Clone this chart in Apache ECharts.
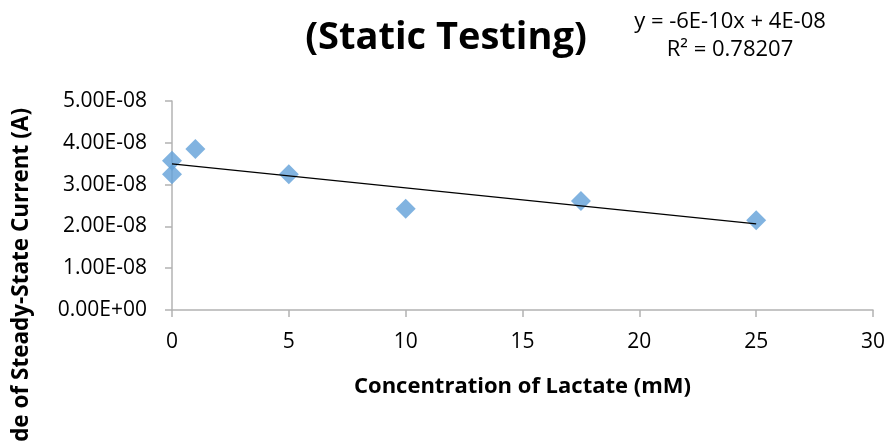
<!DOCTYPE html>
<html>
<head>
<meta charset="utf-8">
<script src="https://cdn.jsdelivr.net/npm/echarts@6/dist/echarts.min.js"></script>
<style>
  html, body { margin: 0; padding: 0; background: #fff; }
  #chart { width: 891px; height: 442px; }
</style>
</head>
<body>
<div id="chart"></div>
<script>
var lactate = [0, 0, 1, 5, 10, 17.5, 25];
var current = [3.57e-8, 3.25e-8, 3.85e-8, 3.25e-8, 2.42e-8, 2.61e-8, 2.15e-8];
var yTicks = [0, 1e-8, 2e-8, 3e-8, 4e-8, 5e-8];
var equationText = 'y = -6E-10x + 4E-08';
var r2Text = 'R² = 0.78207';

// least squares trendline, drawn over the data range
function fitLine(xs, ys) {
    var n = xs.length, mx = 0, my = 0;
    for (var i = 0; i < n; i++) { mx += xs[i]; my += ys[i]; }
    mx /= n; my /= n;
    var sxy = 0, sxx = 0;
    for (var j = 0; j < n; j++) {
        sxy += (xs[j] - mx) * (ys[j] - my);
        sxx += (xs[j] - mx) * (xs[j] - mx);
    }
    var b = sxy / sxx;
    return { slope: b, intercept: my - b * mx };
}
var fit = fitLine(lactate, current);
var xMin = Math.min.apply(null, lactate), xMax = Math.max.apply(null, lactate);
var trend = [[xMin, fit.intercept + fit.slope * xMin], [xMax, fit.intercept + fit.slope * xMax]];

function sci(v) {
    if (v === 0) return '0.00E+00';
    var s = v.toExponential(2).split('e');
    var e = parseInt(s[1], 10);
    var es = (e < 0 ? '-' : '+') + (Math.abs(e) < 10 ? '0' : '') + Math.abs(e);
    return s[0] + 'E' + es;
}

var font = 'Open Sans';
var myChart = echarts.init(document.getElementById('chart'));
var option = {
    backgroundColor: '#fff',
    animation: false,
    title: {
        text: '(Static Testing)',
        left: 441,
        top: 14,
        textAlign: 'center',
        textStyle: { fontFamily: font, fontWeight: 'bold', fontSize: 38, color: '#000' }
    },
    grid: { left: 172, right: 18, top: 101, bottom: 132 },
    xAxis: {
        type: 'value',
        min: 0,
        max: 30,
        interval: 5,
        name: 'Concentration of Lactate (mM)',
        nameLocation: 'middle',
        nameGap: 66,
        nameTextStyle: { fontFamily: font, fontWeight: 'bold', fontSize: 22, color: '#000' },
        axisLine: { lineStyle: { color: '#b3b3b3', width: 1.5 } },
        axisTick: { show: true, length: 7, lineStyle: { color: '#b3b3b3', width: 1.5 } },
        axisLabel: { fontFamily: font, fontSize: 21, color: '#000', margin: 22 },
        splitLine: { show: false }
    },
    yAxis: {
        type: 'value',
        min: 0,
        max: 5e-8,
        interval: 1e-8,
        axisLine: { show: true, lineStyle: { color: '#b3b3b3', width: 1.5 } },
        axisTick: { show: true, length: 7, lineStyle: { color: '#b3b3b3', width: 1.5 } },
        axisLabel: {
            fontFamily: font, fontSize: 21, color: '#000', margin: 25,
            formatter: function (v) { return sci(v); }
        },
        splitLine: { show: false }
    },
    graphic: [
        {
            type: 'text',
            x: 22,
            y: 108,
            rotation: Math.PI / 2,
            style: {
                text: 'Magnitude of Steady-State Current (A)',
                fontFamily: font, fontWeight: 'bold', fontSize: 22.5, fill: '#000',
                textAlign: 'right', textVerticalAlign: 'middle'
            }
        },
        {
            type: 'text',
            x: 730,
            y: 22,
            style: {
                text: equationText,
                fontFamily: font, fontSize: 22, fill: '#000',
                textAlign: 'center', textVerticalAlign: 'middle'
            }
        },
        {
            type: 'text',
            x: 730,
            y: 50,
            style: {
                text: r2Text,
                fontFamily: font, fontSize: 22, fill: '#000',
                textAlign: 'center', textVerticalAlign: 'middle'
            }
        }
    ],
    series: [
        {
            name: 'Linear fit',
            type: 'line',
            data: trend,
            symbol: 'none',
            lineStyle: { color: '#000', width: 1.3 },
            z: 3
        },
        {
            name: 'Current',
            type: 'scatter',
            data: lactate.map(function (x, i) { return [x, current[i]]; }),
            symbol: 'diamond',
            symbolSize: 20,
            itemStyle: { color: '#62a0d8' },
            z: 2
        }
    ]
};
myChart.setOption(option);
</script>
</body>
</html>
